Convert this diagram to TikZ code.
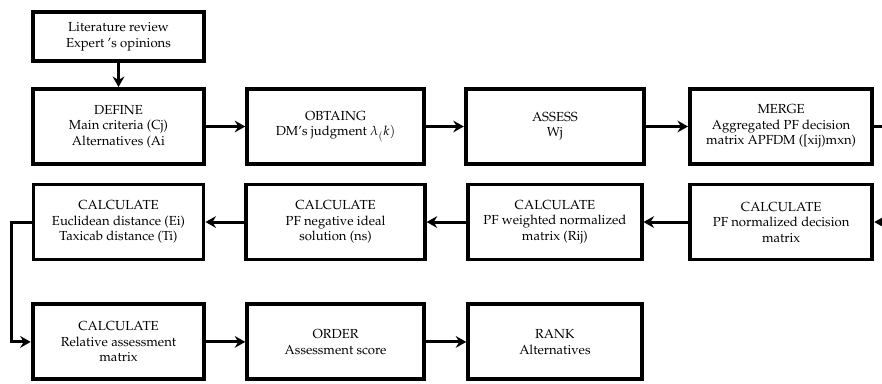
\documentclass[tikz,border=0pt]{standalone}
\usepackage[T1]{fontenc}
\usepackage{mathpazo}
\usepackage{tikz}
\usetikzlibrary{positioning}
\usetikzlibrary{arrows.meta}

\begin{document}
\begin{tikzpicture}[x=0.03cm, y=-0.03cm,
	stage/.style={rectangle, draw, line width=3.3pt, minimum width=5.3cm, minimum height=2.25cm, align=center, inner sep=2pt, font=\fontsize{11.2}{13.2}\selectfont, execute at begin node={\rule{0pt}{14pt}}},
	flow/.style={-{Stealth[length=9pt, width=10pt, inset=3pt]}, line width=2.5pt}]
	\useasboundingbox (0,0) rectangle (882,383);
	\node [stage, minimum width=5.15cm] (define) at (118.5,126.5) {DEFINE\\Main criteria (Cj)\\Alternatives (Ai};
	\node [stage, minimum width=5.15cm, minimum height=1.47cm, above=0.72cm of define] (lit) {Literature review\\Expert 's opinions};
	\node [stage, right=1.17cm of define] (obtain) {OBTAING\\DM's judgment $\lambda_(k)$};
	\node [stage, minimum width=5.35cm, right=1.14cm of obtain] (assess) {ASSESS\\Wj};
	\node [stage, minimum width=5.47cm, right=1.26cm of assess] (merge) {MERGE\\Aggregated PF decision\\matrix APFDM ([xij)mxn)};
	% second row, right to left
	\node [stage, minimum width=5.1cm, below=0.5cm of define] (dist) {CALCULATE\\Euclidean distance (Ei)\\Taxicab distance (Ti)};
	\node [stage, minimum width=5.35cm, below=0.5cm of obtain] (neg) {CALCULATE\\PF negative ideal\\solution (ns)};
	\node [stage, minimum width=5.2cm, below=0.5cm of assess] (weight) {CALCULATE\\PF weighted normalized\\matrix (Rij)};
	\node [stage, minimum width=5.47cm, below=0.5cm of merge] (norm) {CALCULATE\\PF normalized decision\\matrix};
	% third row
	\node [stage, minimum width=5.15cm, below=1.23cm of dist] (rel) {CALCULATE\\Relative assessment\\matrix};
	\node [stage, minimum width=5.3cm, below=1.23cm of neg] (order) {ORDER\\Assessment score};
	\node [stage, minimum width=5.2cm, below=1.23cm of weight] (rank) {RANK\\Alternatives};
	% connectors
	\draw [flow] (lit) -- (define);
	\draw [flow] (define) -- (obtain);
	\draw [flow] (obtain) -- (assess);
	\draw [flow] (assess) -- (merge);
	\draw [flow] (merge.east) -- ++(30,0) |- (norm.east);
	\draw [flow] (norm) -- (weight);
	\draw [flow] (weight) -- (neg);
	\draw [flow] (neg) -- (dist);
	\draw [flow] (dist.west) -- ++(-20,0) |- (rel.west);
	\draw [flow] (rel) -- (order);
	\draw [flow] (order) -- (rank);
\end{tikzpicture}
\end{document}
